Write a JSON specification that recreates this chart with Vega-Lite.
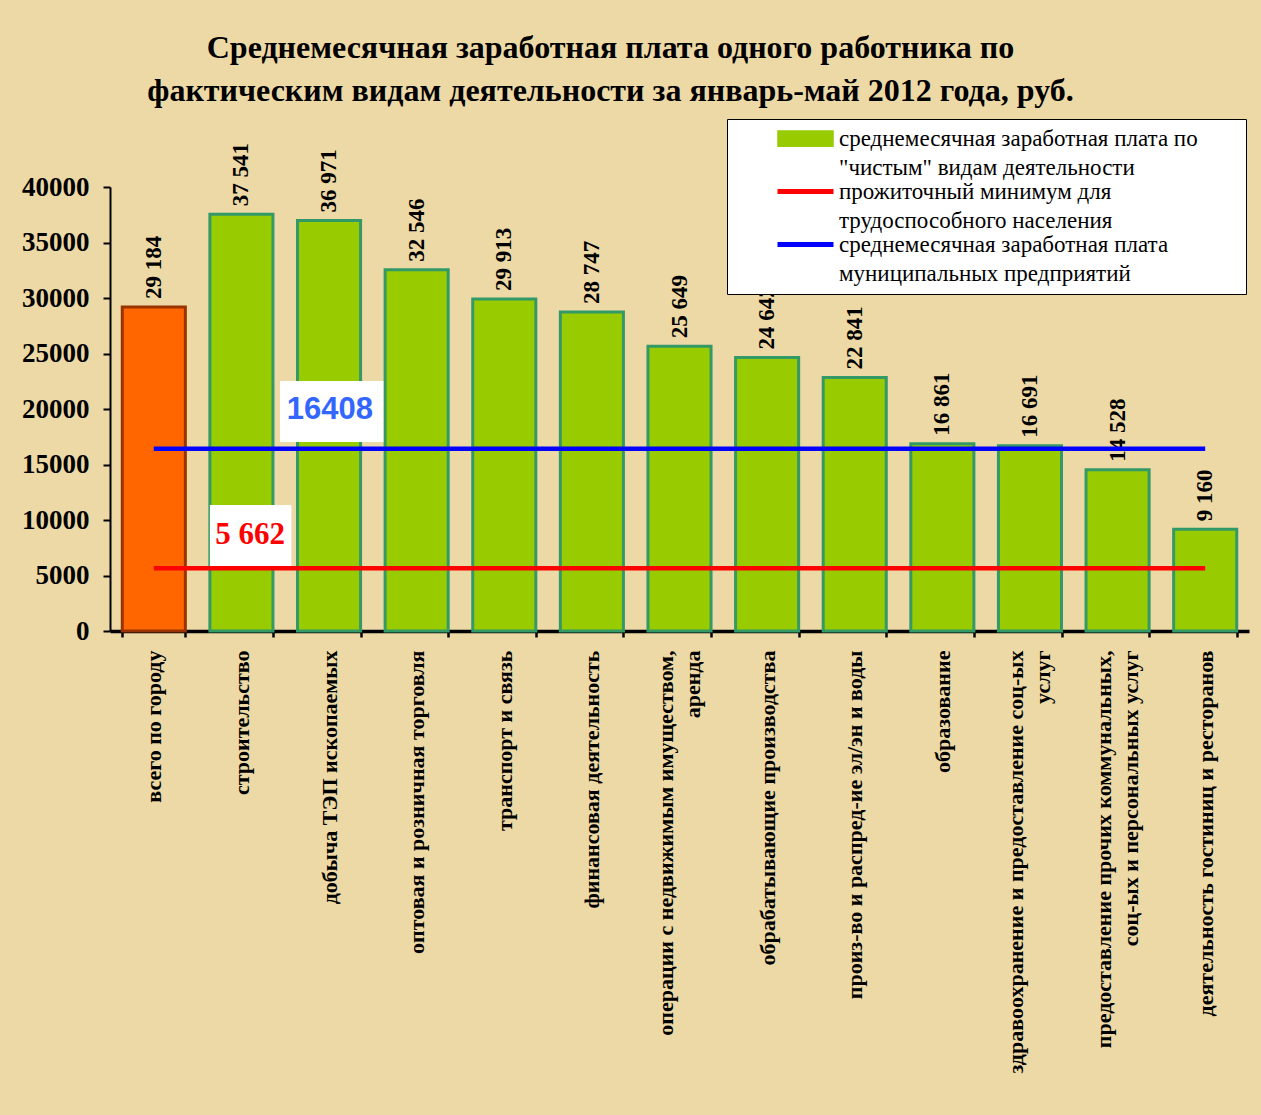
{
  "$schema": "https://vega.github.io/schema/vega-lite/v6.json",
  "width": 1139,
  "height": 444,
  "autosize": {"type": "none"},
  "padding": {"left": 110, "top": 187, "right": 12, "bottom": 484},
  "background": "#EDD9A6",
  "title": {
    "text": ["Среднемесячная заработная плата одного работника по", "фактическим видам деятельности за январь-май 2012 года, руб."],
    "anchor": "middle",
    "dx": -69,
    "offset": 11,
    "font": "Liberation Serif",
    "fontSize": 32,
    "fontWeight": "bold",
    "lineHeight": 43,
    "color": "black"
  },
  "config": {
    "view": {"stroke": null},
    "locale": {"number": {"decimal": ",", "thousands": " ", "grouping": [3], "currency": ["", " руб."]}},
    "legend": {
      "orient": "none",
      "legendX": 617,
      "legendY": -68,
      "direction": "vertical",
      "fillColor": "white",
      "strokeColor": "black",
      "padding": 8,
      "symbolOffset": 59,
      "labelOffset": 22,
      "labelFont": "Liberation Serif",
      "labelFontSize": 23,
      "labelColor": "black",
      "labelLimit": 800,
      "rowPadding": 0,
      "titleOrient": "right",
      "titlePadding": 37,
      "titleFontSize": 10,
      "titleColor": "white"
    }
  },
  "datasets": {
    "bars": [
      {"cat": "всего по городу", "value": 29184, "series": "всего"},
      {"cat": "строительство", "value": 37541, "series": "чистые"},
      {"cat": "добыча ТЭП  ископаемых", "value": 36971, "series": "чистые"},
      {"cat": "оптовая и розничная торговля", "value": 32546, "series": "чистые"},
      {"cat": "транспорт и связь", "value": 29913, "series": "чистые"},
      {"cat": "финансовая деятельность", "value": 28747, "series": "чистые"},
      {"cat": "операции с недвижимым имуществом, аренда", "value": 25649, "series": "чистые"},
      {"cat": "обрабатывающие производства", "value": 24642, "series": "чистые"},
      {"cat": "произ-во и распред-ие эл/эн и воды", "value": 22841, "series": "чистые"},
      {"cat": "образование", "value": 16861, "series": "чистые"},
      {"cat": "здравоохранение и предоставление соц-ых услуг", "value": 16691, "series": "чистые"},
      {"cat": "предоставление прочих коммунальных, соц-ых и персональных услуг", "value": 14528, "series": "чистые"},
      {"cat": "деятельность гостиниц и ресторанов", "value": 9160, "series": "чистые"}
    ],
    "levels": [
      {"series": "минимум", "value": 5662},
      {"series": "муниц", "value": 16408}
    ]
  },
  "layer": [
    {
      "layer": [
        {
          "data": {"name": "bars"},
          "mark": {"type": "bar", "strokeWidth": 3},
          "encoding": {
            "x": {
              "field": "cat", "type": "nominal", "sort": null,
              "scale": {
                "domain": ["всего по городу", "строительство", "добыча ТЭП  ископаемых", "оптовая и розничная торговля", "транспорт и связь", "финансовая деятельность", "операции с недвижимым имуществом, аренда", "обрабатывающие производства", "произ-во и распред-ие эл/эн и воды", "образование", "здравоохранение и предоставление соц-ых услуг", "предоставление прочих коммунальных, соц-ых и персональных услуг", "деятельность гостиниц и ресторанов"],
                "paddingInner": 0.28, "paddingOuter": 0.14
              },
              "axis": {
                "title": null,
                "labelAngle": -90,
                "labelAlign": "right",
                "labelBaseline": "middle",
                "labelFont": "Liberation Serif",
                "labelFontWeight": "bold",
                "labelFontSize": 22,
                "labelLineHeight": 27,
                "labelColor": "black",
                "labelPadding": 13,
                "labelLimit": 700,
                "labelOverlap": false,
                "labelOffset": {
                  "condition": {"test": "datum.value === 'операции с недвижимым имуществом, аренда' || datum.value === 'здравоохранение и предоставление соц-ых услуг' || datum.value === 'предоставление прочих коммунальных, соц-ых и персональных услуг'", "value": -14},
                  "value": 0
                },
                "tickBand": "extent",
                "tickSize": 6,
                "tickWidth": 2.5,
                "tickColor": "black",
                "domainColor": "black",
                "domainWidth": 3.5,
                "labelExpr": "datum.value === 'операции с недвижимым имуществом, аренда' ? ['операции с недвижимым имуществом,', 'аренда'] : datum.value === 'здравоохранение и предоставление соц-ых услуг' ? ['здравоохранение и предоставление соц-ых', 'услуг'] : datum.value === 'предоставление прочих коммунальных, соц-ых и персональных услуг' ? ['предоставление прочих коммунальных,', 'соц-ых и персональных услуг'] : datum.label"
              }
            },
            "y": {
              "field": "value", "type": "quantitative",
              "scale": {"domain": [0, 40000], "nice": false},
              "axis": {
                "title": null,
                "values": [0, 5000, 10000, 15000, 20000, 25000, 30000, 35000, 40000],
                "format": "d",
                "grid": false,
                "labelFont": "Liberation Serif",
                "labelFontWeight": "bold",
                "labelFontSize": 27,
                "labelColor": "black",
                "labelPadding": 14,
                "tickSize": 7,
                "tickWidth": 2,
                "tickColor": "black",
                "domainColor": "black",
                "domainWidth": 2
              }
            },
            "color": {
              "field": "series", "type": "nominal",
              "scale": {"domain": ["всего", "чистые", "минимум", "муниц"], "range": ["#FF6600", "#99CC00", "#FF0000", "#0000FF"]},
              "legend": {
                "title": ".",
                "values": ["чистые", "минимум", "муниц"],
                "labelExpr": "datum.value === 'чистые' ? ['среднемесячная заработная плата по', '\"чистым\" видам деятельности'] : datum.value === 'минимум' ? ['прожиточный минимум для', 'трудоспособного населения'] : ['среднемесячная заработная плата', 'муниципальных предприятий']",
                "encode": {
                  "symbols": {
                    "update": {
                      "shape": {"signal": "datum.value === 'чистые' ? 'M-1,-0.25H1V0.25H-1Z' : 'stroke'"},
                      "size": {"signal": "datum.value === 'чистые' ? 2809 : 3136"},
                      "fill": {"signal": "datum.value === 'чистые' ? '#99CC00' : 'transparent'"},
                      "stroke": {"signal": "datum.value === 'чистые' ? '#339966' : datum.value === 'минимум' ? '#FF0000' : '#0000FF'"},
                      "strokeWidth": {"signal": "datum.value === 'чистые' ? 3.5 : 5"},
                      "opacity": {"value": 1},
                      "strokeOpacity": {"value": 1},
                      "fillOpacity": {"value": 1}
                    }
                  },
                  "labels": {"update": {"lineHeight": {"value": 29}}}
                }
              }
            },
            "stroke": {
              "condition": {"test": "datum.series === 'всего'", "value": "#993300"},
              "value": "#339966"
            }
          }
        },
        {
          "data": {"name": "bars"},
          "mark": {"type": "text", "angle": -90, "align": "left", "baseline": "middle", "dx": 8, "font": "Liberation Serif", "fontWeight": "bold", "fontSize": 23, "color": "black"},
          "encoding": {
            "x": {"field": "cat", "type": "nominal", "sort": null},
            "y": {"field": "value", "type": "quantitative"},
            "text": {"field": "value", "type": "quantitative", "format": ",d"}
          }
        },
        {
          "data": {"name": "levels"},
          "mark": {"type": "rule", "strokeWidth": 4.5},
          "encoding": {
            "x": {"datum": "всего по городу"},
            "x2": {"datum": "деятельность гостиниц и ресторанов"},
            "y": {"field": "value", "type": "quantitative"},
            "color": {
              "field": "series", "type": "nominal",
              "legend": {
                "title": ".",
                "values": ["чистые", "минимум", "муниц"],
                "labelExpr": "datum.value === 'чистые' ? ['среднемесячная заработная плата по', '\"чистым\" видам деятельности'] : datum.value === 'минимум' ? ['прожиточный минимум для', 'трудоспособного населения'] : ['среднемесячная заработная плата', 'муниципальных предприятий']",
                "encode": {
                  "symbols": {
                    "update": {
                      "shape": {"signal": "datum.value === 'чистые' ? 'M-1,-0.25H1V0.25H-1Z' : 'stroke'"},
                      "size": {"signal": "datum.value === 'чистые' ? 2809 : 3136"},
                      "fill": {"signal": "datum.value === 'чистые' ? '#99CC00' : 'transparent'"},
                      "stroke": {"signal": "datum.value === 'чистые' ? '#339966' : datum.value === 'минимум' ? '#FF0000' : '#0000FF'"},
                      "strokeWidth": {"signal": "datum.value === 'чистые' ? 3.5 : 5"},
                      "opacity": {"value": 1},
                      "strokeOpacity": {"value": 1},
                      "fillOpacity": {"value": 1}
                    }
                  },
                  "labels": {"update": {"lineHeight": {"value": 29}}}
                }
              }
            }
          }
        }
      ]
    },
    {
      "data": {"values": [{}]},
      "layer": [
        {
          "mark": {"type": "rect", "fill": "white"},
          "encoding": {
            "x": {"datum": 1.94, "type": "quantitative", "scale": {"domain": [0, 13], "nice": false, "zero": false}, "axis": null},
            "x2": {"datum": 3.12},
            "y": {"datum": 17027, "type": "quantitative"},
            "y2": {"datum": 22523}
          }
        },
        {
          "mark": {"type": "text", "text": "16408", "font": "Liberation Sans", "fontWeight": "bold", "fontSize": 31, "color": "#3366FF", "align": "center", "baseline": "middle"},
          "encoding": {
            "x": {"datum": 2.51, "type": "quantitative"},
            "y": {"datum": 19910, "type": "quantitative"}
          }
        },
        {
          "mark": {"type": "rect", "fill": "white"},
          "encoding": {
            "x": {"datum": 1.14, "type": "quantitative"},
            "x2": {"datum": 2.07},
            "y": {"datum": 5856, "type": "quantitative"},
            "y2": {"datum": 11351}
          }
        },
        {
          "mark": {"type": "text", "text": "5 662", "font": "Liberation Serif", "fontWeight": "bold", "fontSize": 31, "color": "#FF0000", "align": "center", "baseline": "middle"},
          "encoding": {
            "x": {"datum": 1.6, "type": "quantitative"},
            "y": {"datum": 8649, "type": "quantitative"}
          }
        }
      ]
    }
  ],
  "resolve": {"scale": {"x": "independent"}}
}
